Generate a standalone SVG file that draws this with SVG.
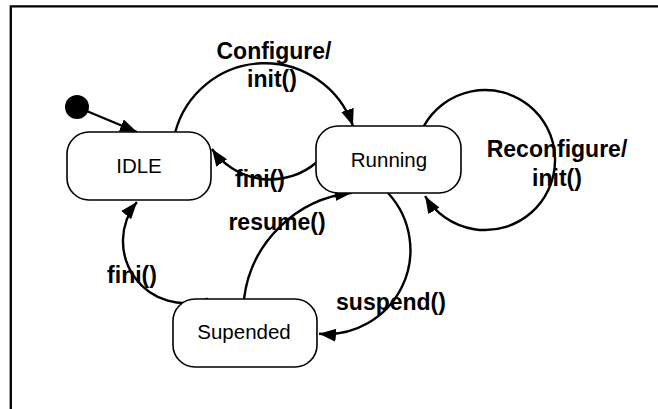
<svg xmlns="http://www.w3.org/2000/svg" width="658" height="409" viewBox="0 0 658 409">
<style>
.node{fill:#fff;stroke:#000;stroke-width:1.6}
.nl{font-family:"Liberation Sans",Arial,sans-serif;font-size:20.5px;fill:#000;text-anchor:middle}
.el{font-family:"Liberation Sans",Arial,sans-serif;font-size:23px;font-weight:bold;fill:#000;text-anchor:middle}
.edge{fill:none;stroke:#000;stroke-width:2.4;marker-end:url(#ah)}
</style>
<defs>
<marker id="ah" markerUnits="userSpaceOnUse" markerWidth="18" markerHeight="14" refX="17" refY="6.5" orient="auto">
<path d="M0,0 L17,6.5 L0,13 z" fill="#000"/>
</marker>
</defs>
<rect width="658" height="409" fill="#fff"/>
<path d="M10.8,409 V6.3 H658" fill="none" stroke="#000" stroke-width="2.3"/>
<g id="connectors">
<path class="edge" d="M77,107 L137,132"/>
<path class="edge" d="M175,133 A93,93 0 0 1 353,126"/>
<path class="edge" d="M317,162 A71,71 0 0 1 212,149"/>
<path class="edge" d="M423.7,126.3 A70,70 0 1 1 425.1,196.2"/>
<path class="edge" d="M388,193 A84,84 0 0 1 319,333.8"/>
<path class="edge" d="M244,299 A122,122 0 0 1 352,192.7"/>
<path class="edge" d="M207.8,298.7 A62,62 0 0 1 136.9,201.9"/>
</g>
<g id="initial"><circle cx="77" cy="107" r="12" fill="#000"/></g>
<g id="idle"><rect class="node" x="67" y="132" width="144" height="68" rx="22"/><text class="nl" x="139" y="173">IDLE</text></g>
<g id="running"><rect class="node" x="316" y="126" width="145" height="67" rx="22"/><text class="nl" x="389" y="167">Running</text></g>
<g id="suspended"><rect class="node" x="173" y="299" width="144" height="68" rx="22"/><text class="nl" x="244" y="339">Supended</text></g>
<g id="labels">
<text class="el" x="274" y="59">Configure/</text>
<text class="el" x="272" y="87">init()</text>
<text class="el" x="260" y="187">fini()</text>
<text class="el" x="557" y="157">Reconfigure/</text>
<text class="el" x="557" y="186">init()</text>
<text class="el" x="277" y="230">resume()</text>
<text class="el" x="132" y="283">fini()</text>
<text class="el" x="391" y="310">suspend()</text>
</g>
</svg>
